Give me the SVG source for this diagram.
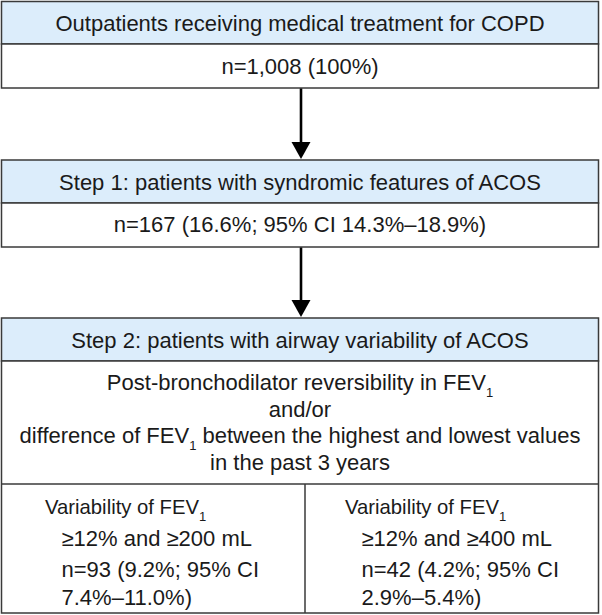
<svg xmlns="http://www.w3.org/2000/svg" width="602" height="615" viewBox="0 0 602 615">
<style>
  .box { fill: #ffffff; stroke: #3a3a3a; stroke-width: 1.5; }
  .hdr { fill: #dcedfb; stroke: #3a3a3a; stroke-width: 1.5; }
  .div { stroke: #3a3a3a; stroke-width: 1.5; fill: none; }
  text { font-family: "Liberation Sans", Arial, sans-serif; font-size: 22px; fill: #1a1a1a; }
  .c { text-anchor: middle; }
  .v { font-size: 20.3px; }
  .sub { font-size: 13px; }
  .conn { stroke: #000000; stroke-width: 2.6; fill: none; }
  .head { fill: #000000; }
</style>
<rect x="0" y="0" width="602" height="615" fill="#ffffff"/>

<g id="node-copd">
  <rect class="hdr" x="1.5" y="1.5" width="597" height="42.5"/>
  <rect class="box" x="1.5" y="44" width="597" height="44"/>
  <text class="c" x="300" y="31">Outpatients receiving medical treatment for COPD</text>
  <text class="c" x="300" y="73.5">n=1,008 (100%)</text>
</g>

<g id="node-step1">
  <rect class="hdr" x="1.5" y="160" width="597" height="43"/>
  <rect class="box" x="1.5" y="203" width="597" height="44"/>
  <text class="c" x="300" y="190">Step 1: patients with syndromic features of ACOS</text>
  <text class="c" x="300" y="232">n=167 (16.6%; 95% CI 14.3%–18.9%)</text>
</g>

<g id="node-step2">
  <rect class="hdr" x="1.5" y="318" width="597" height="43"/>
  <rect class="box" x="1.5" y="361" width="597" height="252"/>
  <line class="div" x1="1.5" y1="484" x2="598.5" y2="484"/>
  <line class="div" x1="305" y1="484" x2="305" y2="613"/>
  <text class="c" x="300" y="348">Step 2: patients with airway variability of ACOS</text>
  <text class="c" x="300" y="390">Post-bronchodilator reversibility in FEV<tspan class="sub" dy="7">1</tspan></text>
  <text class="c" x="300" y="416.5">and/or</text>
  <text class="c" x="300" y="443">difference of FEV<tspan class="sub" dy="7">1</tspan><tspan dy="-7"> between the highest and lowest values</tspan></text>
  <text class="c" x="300" y="470">in the past 3 years</text>
  <g id="node-var200">
    <text class="v" x="45" y="514">Variability of FEV<tspan class="sub" dy="7">1</tspan></text>
    <text x="61.5" y="546">≥12% and ≥200 mL</text>
    <text x="61.5" y="576.5">n=93 (9.2%; 95% CI</text>
    <text x="61.5" y="605">7.4%–11.0%)</text>
  </g>
  <g id="node-var400">
    <text class="v" x="345" y="514">Variability of FEV<tspan class="sub" dy="7">1</tspan></text>
    <text x="361.5" y="546">≥12% and ≥400 mL</text>
    <text x="361.5" y="576.5">n=42 (4.2%; 95% CI</text>
    <text x="361.5" y="605">2.9%–5.4%)</text>
  </g>
</g>

<g id="connectors">
  <line class="conn" x1="301" y1="88.5" x2="301" y2="144"/>
  <path class="head" d="M291.5,142 L310.5,142 L301,159 Z"/>
  <line class="conn" x1="301" y1="247.5" x2="301" y2="302"/>
  <path class="head" d="M291.5,300 L310.5,300 L301,317 Z"/>
</g>
</svg>
